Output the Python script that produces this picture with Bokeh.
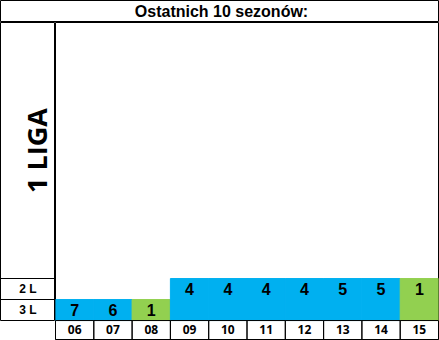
import math
from bokeh.plotting import figure
from bokeh.layouts import column, row
from bokeh.models import Range1d, FactorRange, ColumnDataSource
from bokeh.core.properties import value
from bokeh.embed import file_html
from bokeh.resources import INLINE

# ---- data ----
title_text = "Ostatnich 10 sezonów:"
seasons = ["06", "07", "08", "09", "10", "11", "12", "13", "14", "15"]
league_level = [3, 3, 3, 2, 2, 2, 2, 2, 2, 2]
places = [7, 6, 1, 4, 4, 4, 4, 5, 5, 1]
row_labels = ["3 L", "2 L"]
row_levels = [3, 2]
top_label = "1 LIGA"

BLUE = "#00B0F0"
GREEN = "#92D050"
TOP = 14.19  # upper end of the row scale (rows are one unit tall)


def base(w, h, xr, yr, **kw):
    p = figure(width=w, height=h, x_range=xr, y_range=yr,
               output_backend="svg", toolbar_location=None,
               x_axis_location=None, y_axis_location=None,
               min_border=0, **kw)
    p.grid.visible = False
    p.outline_line_color = "black"
    p.outline_line_width = 1
    p.outline_line_alpha = 1
    p.background_fill_color = "white"
    p.border_fill_color = "white"
    return p


# ---- title band ----
pt = base(439, 22, Range1d(0, 1), Range1d(0, 1), min_border_right=1)
pt.text(x=[0.5], y=[0.5], text=[title_text], x_offset=2,
        text_font=value("Liberation Sans"), text_font_style="bold",
        text_font_size="16px", text_align="center", text_baseline="middle",
        text_color="black")

# ---- left column ----
pl = base(55, 299, Range1d(0, 1), Range1d(-0.05, TOP))
row_tops = [4 - l for l in row_levels]
pl.hspan(y=row_tops, line_color="black", line_width=1)
pl.text(x=[0.5] * len(row_labels), y=[t - 0.5 for t in row_tops], text=row_labels,
        text_font=value("Liberation Sans"), text_font_style="bold",
        text_font_size="12px", text_align="center", text_baseline="middle",
        text_color="black")
pl.text(x=[0.5], y=[(max(row_tops) + TOP) / 2], text=[top_label], angle=math.pi / 2,
        x_offset=8,
        text_font=value("Open Sans"), text_font_style="bold",
        text_font_size="27px", text_align="center", text_baseline="middle",
        text_color="black")

# ---- main chart ----
pm = base(384, 318, FactorRange(factors=seasons), Range1d(-0.95, TOP), min_border_right=1)
tops = [4 - l for l in league_level]
colors = [GREEN if pl_ == 1 else BLUE for pl_ in places]
src = ColumnDataSource(dict(season=seasons, top=tops, place=[str(v) for v in places],
                            ly=[t - 0.5 for t in tops], color=colors))
pm.vbar(x="season", top="top", bottom=0, width=1, fill_color="color",
        line_color="color", line_width=1, source=src)
pm.text(x="season", y="ly", text="place", source=src,
        text_font=value("Liberation Sans"), text_font_style="bold",
        text_font_size="16px", text_align="center", text_baseline="middle",
        text_color="black")
# season label row
pm.vbar(x=seasons, top=0, bottom=-2, width=1, fill_color=None,
        line_color="black", line_width=1)
pm.text(x=seasons, y=[-0.45] * len(seasons), text=seasons,
        text_font=value("Open Sans"), text_font_style="bold",
        text_font_size="12px", text_align="center", text_baseline="middle",
        text_color="black")

layout = column(pt, row(pl, pm, spacing=0), spacing=0)
open("out.html", "w").write(file_html(layout, INLINE))
